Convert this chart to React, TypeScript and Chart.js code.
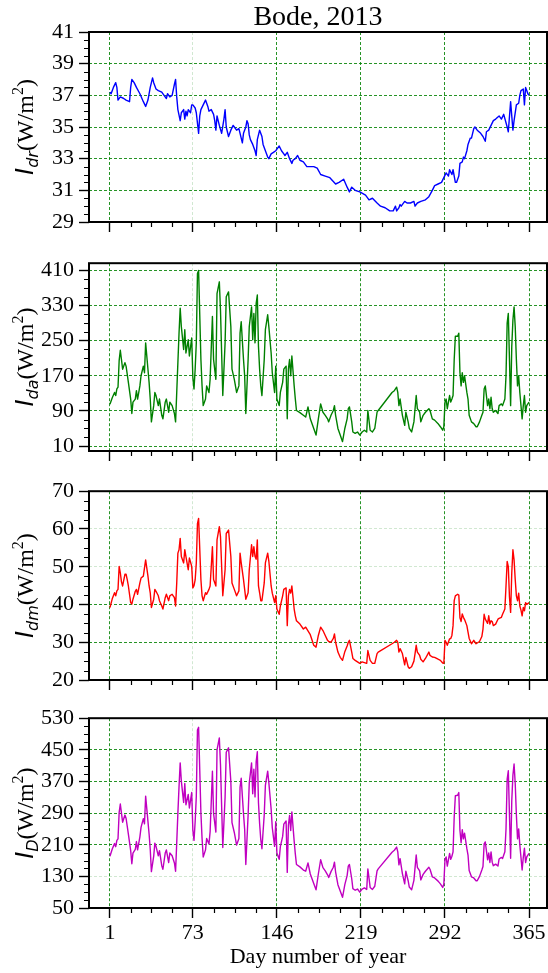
import React, { useEffect, useRef } from 'react';
import { Chart, registerables } from 'chart.js';

Chart.register(...registerables);

// ---------------- data ----------------
const TITLE = 'Bode, 2013';
const X_TITLE = 'Day number of year';
const X_TICKS = [1, 73, 146, 219, 292, 365];

const Y_TICKS_DR = [29, 31, 33, 35, 37, 39, 41];
const Y_TICKS_DA = [10, 90, 170, 250, 330, 410];
const Y_TICKS_DM = [20, 30, 40, 50, 60, 70];
const Y_TICKS_D = [50, 130, 210, 290, 370, 450, 530];

const DR_DAYS = [
  1, 2, 4, 6, 7, 8, 10, 13, 15, 18, 19, 20, 22, 24, 27, 30, 32, 34, 36, 38, 39, 41, 43, 46, 48, 50,
  51, 53, 55, 57, 58, 59, 60, 62, 63, 65, 66, 67, 68, 69, 71, 72, 73, 75, 76, 78, 79, 80, 82, 84,
  86, 87, 89, 91, 92, 93, 94, 96, 98, 100, 101, 102, 104, 106, 108, 109, 111, 113, 115, 116, 117,
  119, 120, 121, 122, 123, 125, 127, 128, 129, 130, 131, 133, 134, 136, 138, 139, 141, 143, 145,
  146, 148, 150, 152, 153, 155, 157, 159, 160, 162, 164, 166, 169, 172, 178, 181, 184, 188, 192,
  197, 200, 204, 207, 209, 211, 214, 218, 223, 226, 229, 233, 236, 240, 244, 247, 249, 250, 252,
  253, 254, 257, 259, 262, 265, 266, 268, 271, 275, 278, 281, 283, 286, 289, 291, 293, 295, 296,
  298, 299, 301, 302, 304, 305, 307, 308, 309, 311, 312, 314, 315, 317, 318, 320, 323, 325, 327,
  328, 330, 332, 334, 336, 339, 341, 343, 346, 347, 349, 350, 351, 352, 354, 356, 357, 358, 360,
  361, 362, 363, 364, 365,
];
const DR_VALUES = [
  37.2, 37.1, 37.5, 37.8, 37.5, 36.7, 36.9, 36.8, 36.7, 36.6, 37.5, 38.0, 37.8, 37.5, 37.1, 36.6,
  36.3, 36.7, 37.5, 38.1, 37.8, 37.4, 37.3, 37.2, 37.0, 36.8, 37.1, 36.9, 37.0, 37.7, 38.0, 36.9,
  36.1, 35.4, 35.9, 36.1, 35.5, 36.0, 35.7, 36.1, 35.9, 36.4, 36.4, 36.2, 35.9, 34.6, 35.7, 36.1,
  36.4, 36.7, 36.3, 36.0, 36.1, 35.8, 35.4, 34.8, 35.7, 35.1, 34.6, 35.5, 36.1, 35.0, 34.4, 34.8,
  35.1, 35.0, 34.8, 34.9, 34.3, 34.0, 34.6, 35.0, 35.4, 35.2, 34.5, 34.2, 33.9, 33.5, 33.2, 34.2,
  34.5, 34.8, 34.4, 33.9, 33.5, 33.1, 33.0, 33.3, 33.4, 33.5, 33.6, 33.8, 33.5, 33.3, 33.2, 33.4,
  33.0, 32.7, 32.9, 33.0, 33.2, 32.9, 32.8, 32.5, 32.5, 32.4, 32.0, 31.9, 31.8, 31.4, 31.5, 31.7,
  31.2, 30.9, 31.2, 31.0, 30.9, 30.7, 30.4, 30.5, 30.2, 30.0, 29.9, 29.7, 29.7, 30.0, 29.7, 29.9,
  30.1, 30.0, 30.3, 30.2, 30.2, 30.3, 30.0, 30.2, 30.3, 30.4, 30.6, 31.0, 31.3, 31.4, 31.5, 31.8,
  32.1, 31.9, 32.3, 32.0, 32.3, 31.5, 31.5, 31.9, 32.7, 32.8, 33.1, 33.0, 33.5, 33.9, 34.3, 34.3,
  34.9, 35.0, 34.8, 34.6, 34.4, 34.1, 34.7, 34.8, 35.1, 35.4, 35.5, 35.7, 35.5, 35.8, 35.0, 34.7,
  36.6, 35.7, 34.8, 35.4, 36.4, 36.5, 37.0, 37.3, 37.4, 36.4, 37.5, 37.3, 37.1, 37.0,
];

const DAYS = [
  1, 3, 5, 6, 7, 8, 9, 10, 11, 12, 14, 15, 16, 17, 19, 20, 21, 23, 24, 25, 27, 28, 30, 31, 32, 34,
  35, 36, 37, 39, 40, 41, 43, 44, 46, 47, 49, 50, 52, 53, 55, 57, 58, 59, 60, 61, 62, 63, 65, 66,
  67, 69, 70, 72, 73, 74, 75, 76, 77, 78, 80, 81, 82, 84, 85, 87, 88, 90, 91, 93, 94, 96, 97, 99,
  101, 102, 104, 106, 107, 109, 111, 113, 114, 115, 117, 118, 119, 121, 122, 124, 125, 126, 127,
  128, 129, 130, 131, 132, 133, 135, 136, 138, 139, 141, 142, 144, 145, 146, 148, 149, 151, 152,
  154, 155, 156, 157, 158, 159, 161, 162, 163, 166, 169, 171, 173, 175, 178, 180, 182, 184, 186,
  188, 190, 191, 193, 195, 196, 197, 199, 201, 203, 205, 207, 208, 209, 211, 212, 214, 216, 218,
  220, 222, 224, 225, 227, 229, 231, 233, 234, 246, 248, 250, 251, 252, 253, 255, 257, 258, 260,
  261, 263, 265, 266, 267, 268, 270, 271, 273, 275, 278, 279, 281, 283, 286, 288, 290, 291, 292,
  293, 294, 296, 297, 298, 299, 300, 301, 303, 304, 305, 306, 307, 308, 309, 311, 312, 313, 315,
  317, 319, 320, 322, 324, 325, 326, 327, 329, 330, 331, 332, 333, 334, 336, 338, 339, 341, 342,
  344, 345, 346, 347, 348, 349, 350, 351, 352, 353, 354, 355, 356, 357, 358, 359, 360, 361, 362,
  363, 365,
];
const DA_VALUES = [
  105, 120, 132, 125, 140, 144, 205, 228, 207, 185, 200, 192, 174, 155, 117, 84, 110, 117, 136, 117,
  147, 170, 192, 177, 245, 185, 155, 117, 65, 102, 132, 125, 102, 117, 80, 72, 110, 117, 87, 110,
  102, 84, 65, 132, 200, 267, 324, 282, 230, 275, 222, 252, 215, 256, 166, 140, 185, 245, 403, 410,
  207, 147, 102, 117, 147, 132, 162, 305, 207, 162, 357, 384, 320, 125, 245, 350, 361, 282, 185,
  162, 132, 147, 267, 293, 207, 170, 84, 207, 282, 327, 252, 312, 245, 335, 354, 237, 185, 147, 125,
  207, 275, 309, 282, 222, 177, 132, 192, 117, 102, 132, 155, 185, 192, 72, 185, 207, 170, 215, 147,
  117, 91, 86, 80, 76, 99, 72, 50, 35, 72, 106, 87, 80, 72, 65, 80, 91, 102, 80, 50, 35, 20, 50, 72,
  95, 99, 65, 42, 39, 42, 35, 42, 46, 42, 91, 46, 42, 50, 87, 91, 132, 136, 144, 132, 102, 117, 80,
  57, 87, 65, 50, 42, 65, 95, 125, 95, 87, 65, 80, 87, 95, 91, 72, 69, 61, 54, 46, 54, 110, 117, 95,
  125, 110, 117, 125, 207, 260, 260, 267, 177, 147, 177, 155, 170, 132, 117, 80, 65, 61, 54, 54, 65,
  80, 87, 140, 147, 102, 117, 95, 121, 95, 87, 91, 84, 102, 106, 102, 117, 170, 290, 312, 207, 102,
  237, 297, 327, 282, 207, 147, 170, 132, 102, 72, 102, 125, 87, 102, 110,
];
const DM_VALUES = [
  39.2, 41.5, 43.1, 42.3, 43.6, 44.0, 50.1, 48.4, 46.0, 44.9, 48.0, 48.0, 46.6, 44.9, 40.5, 40.1,
  41.4, 43.5, 44.0, 42.7, 45.7, 47.0, 47.5, 49.7, 51.8, 47.5, 44.9, 43.1, 39.2, 41.4, 44.0, 43.5,
  42.3, 41.0, 39.6, 38.8, 41.8, 42.7, 41.0, 42.3, 42.7, 41.8, 39.6, 45.7, 53.6, 54.5, 57.5, 52.7,
  51.0, 54.5, 52.7, 49.2, 52.3, 50.1, 44.4, 45.0, 46.5, 51.0, 61.4, 62.8, 46.6, 42.3, 41.0, 43.1,
  42.7, 44.0, 44.9, 55.3, 46.6, 44.9, 57.1, 60.6, 58.0, 42.3, 49.2, 58.8, 59.7, 52.7, 45.7, 44.0,
  42.3, 43.6, 53.6, 51.0, 46.6, 44.0, 41.4, 43.1, 49.2, 55.8, 52.7, 55.3, 52.7, 52.0, 57.1, 44.9,
  43.1, 41.0, 41.0, 45.7, 51.0, 53.6, 51.5, 44.9, 43.0, 40.5, 42.3, 38.8, 37.4, 39.6, 42.3, 44.0,
  44.4, 34.4, 42.3, 44.0, 43.0, 44.9, 38.8, 37.0, 35.7, 34.8, 33.5, 34.0, 33.0, 32.0, 29.2, 28.7,
  31.8, 34.0, 33.1, 31.8, 30.5, 30.2, 30.0, 31.0, 32.2, 30.0, 27.4, 26.0, 25.2, 27.5, 29.0, 30.0,
  30.5, 27.4, 25.7, 25.2, 24.8, 24.4, 24.8, 24.6, 24.4, 27.8, 25.2, 24.4, 24.4, 27.0, 27.4, 29.6,
  30.0, 30.5, 30.0, 27.4, 28.3, 27.0, 24.0, 26.0, 23.5, 23.1, 23.5, 25.0, 27.0, 29.2, 27.4, 26.5,
  25.5, 24.8, 25.7, 27.4, 26.5, 26.1, 26.0, 25.5, 25.2, 24.5, 24.4, 30.5, 30.0, 29.2, 30.9, 31.0,
  31.8, 34.4, 41.0, 42.3, 42.7, 42.5, 36.5, 35.5, 37.5, 36.6, 36.0, 34.4, 32.7, 31.0, 29.6, 30.5,
  29.6, 29.8, 30.2, 31.5, 33.5, 37.4, 36.1, 35.0, 37.0, 34.8, 35.7, 35.5, 34.4, 34.8, 36.1, 36.3,
  36.6, 37.4, 38.8, 44.9, 51.4, 50.0, 42.0, 37.9, 48.4, 54.5, 51.8, 46.6, 42.3, 41.0, 43.0, 39.6,
  38.5, 37.0, 39.2, 38.3, 40.5, 40.0, 40.5,
];
const D_VALUES = [
  181, 199, 213, 205, 221, 225, 292, 313, 290, 267, 285, 277, 257, 237, 195, 162, 189, 198, 218, 197,
  230, 254, 276, 263, 333, 269, 237, 198, 142, 181, 214, 206, 182, 195, 157, 148, 189, 197, 165, 189,
  182, 164, 143, 215, 290, 357, 417, 371, 317, 365, 311, 337, 303, 342, 247, 221, 268, 332, 500, 507,
  290, 226, 179, 197, 226, 212, 243, 396, 289, 242, 450, 480, 413, 203, 330, 444, 455, 370, 266, 241,
  209, 226, 355, 378, 288, 249, 160, 285, 366, 417, 339, 401, 331, 420, 445, 316, 263, 223, 200, 286,
  360, 396, 367, 300, 253, 206, 268, 189, 173, 205, 231, 262, 270, 140, 260, 284, 246, 293, 219, 187,
  160, 154, 146, 143, 164, 136, 112, 96, 136, 172, 152, 144, 134, 127, 142, 153, 166, 141, 109, 93,
  77, 109, 132, 156, 160, 124, 99, 95, 98, 90, 98, 101, 97, 149, 102, 97, 105, 144, 149, 191, 196,
  204, 192, 159, 175, 137, 111, 143, 119, 103, 96, 120, 152, 184, 153, 144, 121, 135, 143, 153, 148,
  129, 126, 118, 111, 102, 110, 173, 179, 156, 188, 173, 181, 192, 280, 334, 335, 342, 246, 215, 248,
  225, 239, 200, 184, 145, 129, 126, 119, 119, 130, 146, 155, 212, 217, 172, 189, 165, 192, 166, 157,
  161, 156, 174, 178, 175, 192, 250, 376, 397, 286, 176, 321, 386, 414, 365, 286, 225, 250, 209, 178,
  146, 178, 201, 165, 179, 188,
];

// ---------------- layout / style ----------------
const FIG_W = 548;
const FIG_H = 973;
const PLOT_LEFT = 89;
const X_MIN = -17.2;
const X_MAX = 380.6;
const GRID_COLOR = 'rgba(0,128,0,0.85)';
const GRID_LIGHT = 'rgba(0,128,0,0.18)';
const SERIF = '"Liberation Serif", "Times New Roman", serif';
const SANS = '"DejaVu Sans", sans-serif';

type PanelCfg = {
  sub: string;
  days: number[];
  values: number[];
  color: string;
  min: number;
  max: number;
  ticks: number[];
  lightY: number[];
  plotTop: number;
  plotBottom: number;
  canvasTop: number;
  canvasBottom: number;
  first?: boolean;
  last?: boolean;
};

const PANELS: PanelCfg[] = [
  { sub: 'dr', days: DR_DAYS, values: DR_VALUES, color: '#0000ff', min: 29, max: 41, ticks: Y_TICKS_DR,
    lightY: [], plotTop: 32, plotBottom: 222, canvasTop: 0, canvasBottom: 245, first: true },
  { sub: 'da', days: DAYS, values: DA_VALUES, color: '#008000', min: -1.3, max: 426.4, ticks: Y_TICKS_DA,
    lightY: [], plotTop: 261, plotBottom: 451, canvasTop: 245, canvasBottom: 473 },
  { sub: 'dm', days: DAYS, values: DM_VALUES, color: '#ff0000', min: 20, max: 70, ticks: Y_TICKS_DM,
    lightY: [50, 60], plotTop: 489, plotBottom: 680, canvasTop: 473, canvasBottom: 700 },
  { sub: 'D', days: DAYS, values: D_VALUES, color: '#c000c0', min: 50, max: 530, ticks: Y_TICKS_D,
    lightY: [130], plotTop: 717, plotBottom: 908, canvasTop: 700, canvasBottom: FIG_H, last: true },
];

function drawYLabel(ctx: CanvasRenderingContext2D, x: number, yc: number, sub: string) {
  const parts = [
    { t: 'I', f: `italic 24px ${SANS}`, dy: 0 },
    { t: sub, f: `italic 16px ${SANS}`, dy: 5 },
    { t: '(W/m', f: `24px ${SERIF}`, dy: 0 },
    { t: '2', f: `16px ${SERIF}`, dy: -10 },
    { t: ')', f: `24px ${SERIF}`, dy: 0 },
  ];
  ctx.save();
  ctx.translate(x, yc);
  ctx.rotate(-Math.PI / 2);
  ctx.fillStyle = '#000';
  ctx.textBaseline = 'alphabetic';
  ctx.textAlign = 'left';
  let total = 0;
  const widths = parts.map((p) => {
    ctx.font = p.f;
    const w = ctx.measureText(p.t).width;
    total += w;
    return w;
  });
  let cx = -total / 2;
  parts.forEach((p, i) => {
    ctx.font = p.f;
    ctx.fillText(p.t, cx, p.dy);
    cx += widths[i];
  });
  ctx.restore();
}

function PanelChart({ p }: { p: PanelCfg }) {
  const ref = useRef<HTMLCanvasElement | null>(null);
  const h = p.canvasBottom - p.canvasTop;

  useEffect(() => {
    const canvas = ref.current;
    if (!canvas) return;

    const overlay = {
      id: 'overlay' + p.sub,
      afterDatasetsDraw(chart: any) {
        const ctx: CanvasRenderingContext2D = chart.ctx;
        const a = chart.chartArea;
        const xs = chart.scales.x;
        const ys = chart.scales.y;
        ctx.save();
        // minor ticks
        ctx.strokeStyle = '#000';
        ctx.lineWidth = 1.2;
        ctx.beginPath();
        for (let i = 0; i < p.ticks.length - 1; i++) {
          const t0 = p.ticks[i];
          const t1 = p.ticks[i + 1];
          for (let j = 1; j < 4; j++) {
            const y = Math.round(ys.getPixelForValue(t0 + ((t1 - t0) * j) / 4)) + 0.5;
            ctx.moveTo(a.left - 5, y);
            ctx.lineTo(a.left, y);
          }
        }
        for (let i = 0; i < X_TICKS.length - 1; i++) {
          const t0 = X_TICKS[i];
          const t1 = X_TICKS[i + 1];
          for (let j = 1; j < 4; j++) {
            const x = Math.round(xs.getPixelForValue(t0 + ((t1 - t0) * j) / 4)) + 0.5;
            ctx.moveTo(x, a.bottom);
            ctx.lineTo(x, a.bottom + 5);
          }
        }
        ctx.stroke();
        // frame
        ctx.lineWidth = 2;
        ctx.strokeRect(a.left, a.top, a.right - a.left, a.bottom - a.top);
        ctx.restore();

        drawYLabel(ctx, 33, (a.top + a.bottom) / 2, p.sub);

        ctx.save();
        ctx.fillStyle = '#000';
        ctx.textAlign = 'center';
        ctx.textBaseline = 'alphabetic';
        const cx = (a.left + a.right) / 2;
        if (p.first) {
          ctx.font = `28px ${SERIF}`;
          ctx.fillText(TITLE, cx, 25);
        }
        if (p.last) {
          ctx.font = `22px ${SERIF}`;
          ctx.fillText(X_TITLE, cx, 963 - p.canvasTop);
        }
        ctx.restore();
      },
    };

    const tickFont = { family: SERIF, size: 22 };

    const chart = new Chart(canvas, {
      type: 'line',
      data: {
        datasets: [
          {
            data: p.days.map((d, i) => ({ x: d, y: p.values[i] })),
            borderColor: p.color,
            backgroundColor: p.color,
            borderWidth: 1.4,
            pointRadius: 0,
            tension: 0,
            fill: false,
            borderJoinStyle: 'round',
          },
        ],
      },
      options: {
        responsive: false,
        animation: false,
        events: [],
        layout: {
          padding: { top: p.plotTop - p.canvasTop, right: FIG_W - 547, left: 0, bottom: 0 },
        },
        plugins: {
          legend: { display: false },
          tooltip: { enabled: false },
          title: { display: false },
        },
        scales: {
          x: {
            type: 'linear',
            min: X_MIN,
            max: X_MAX,
            afterFit: (s: any) => {
              s.height = p.canvasBottom - p.plotBottom;
            },
            afterBuildTicks: (s: any) => {
              s.ticks = X_TICKS.map((v) => ({ value: v }));
            },
            ticks: {
              display: !!p.last,
              autoSkip: false,
              maxRotation: 0,
              font: tickFont,
              color: '#000',
              padding: 2,
            },
            grid: {
              color: (c: any) => (c.tick && c.tick.value === 73 ? GRID_LIGHT : GRID_COLOR),
              lineWidth: 1,
              tickLength: 10,
              tickColor: '#000',
              tickWidth: 1.4,
            },
            border: { display: false, dash: [3, 2] },
          },
          y: {
            type: 'linear',
            min: p.min,
            max: p.max,
            afterFit: (s: any) => {
              s.width = PLOT_LEFT;
            },
            afterBuildTicks: (s: any) => {
              s.ticks = p.ticks.map((v) => ({ value: v }));
            },
            ticks: {
              autoSkip: false,
              font: tickFont,
              color: '#000',
              padding: 5,
            },
            grid: {
              color: (c: any) =>
                c.tick && p.lightY.includes(c.tick.value) ? GRID_LIGHT : GRID_COLOR,
              lineWidth: 1,
              tickLength: 10,
              tickColor: '#000',
              tickWidth: 1.4,
            },
            border: { display: false, dash: [3, 2] },
          },
        },
      } as any,
      plugins: [overlay],
    });
    return () => chart.destroy();
  }, [p]);

  return (
    <canvas
      ref={ref}
      width={FIG_W}
      height={h}
      style={{ position: 'absolute', left: 0, top: p.canvasTop, width: FIG_W, height: h, display: 'block' }}
    />
  );
}

export default function App() {
  return (
    <div
      style={{
        position: 'absolute',
        left: 0,
        top: 0,
        width: FIG_W,
        height: FIG_H,
        background: '#ffffff',
        overflow: 'hidden',
      }}
    >
      {PANELS.map((p) => (
        <PanelChart key={p.sub} p={p} />
      ))}
    </div>
  );
}
